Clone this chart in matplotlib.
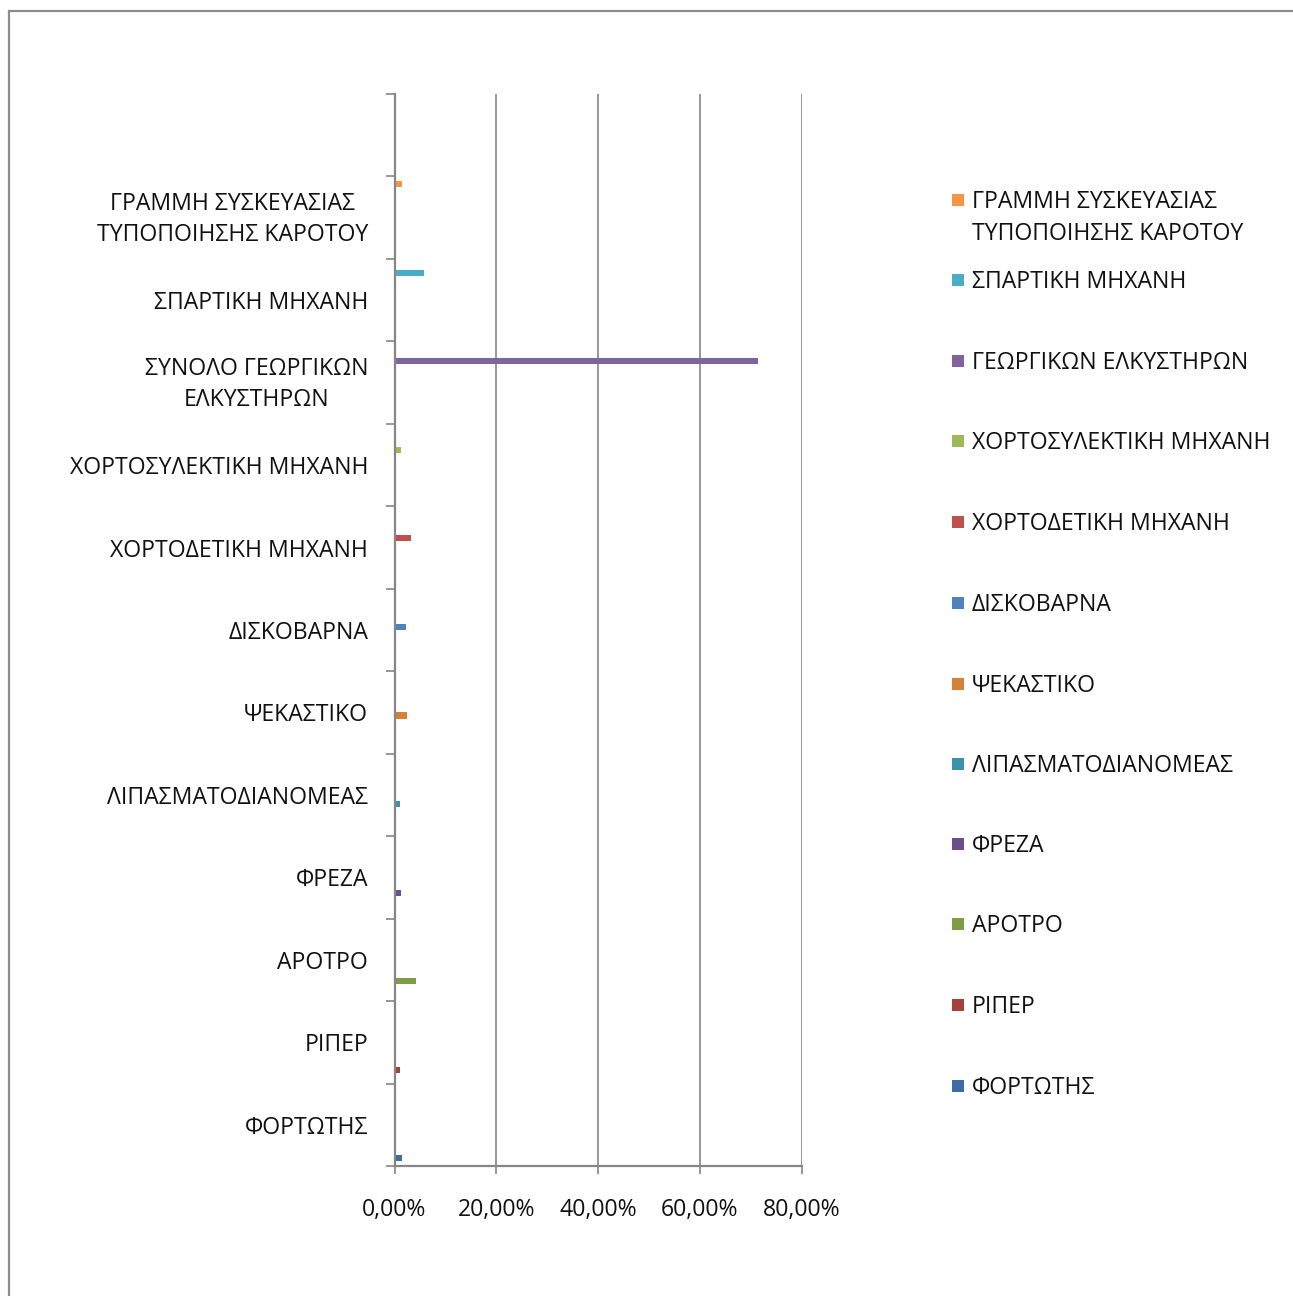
import numpy as np
import matplotlib
matplotlib.use('Agg')
import matplotlib.pyplot as plt
from matplotlib.patches import Rectangle
from matplotlib.ticker import FixedLocator, FuncFormatter
from matplotlib.transforms import ScaledTranslation

plt.rcParams['font.family'] = ['Open Sans', 'DejaVu Sans']

# category labels on the y axis, bottom to top (top band is empty)
categories = ['ΦΟΡΤΩΤΗΣ', 'ΡΙΠΕΡ', 'ΑΡΟΤΡΟ', 'ΦΡΕΖΑ', 'ΛΙΠΑΣΜΑΤΟΔΙΑΝΟΜΕΑΣ',
              'ΨΕΚΑΣΤΙΚΟ', 'ΔΙΣΚΟΒΑΡΝΑ', 'ΧΟΡΤΟΔΕΤΙΚΗ ΜΗΧΑΝΗ',
              'ΧΟΡΤΟΣΥΛΕΚΤΙΚΗ ΜΗΧΑΝΗ', 'ΣΥΝΟΛΟ ΓΕΩΡΓΙΚΩΝ\nΕΛΚΥΣΤΗΡΩΝ',
              'ΣΠΑΡΤΙΚΗ ΜΗΧΑΝΗ', 'ΓΡΑΜΜΗ ΣΥΣΚΕΥΑΣΙΑΣ\nΤΥΠΟΠΟΙΗΣΗΣ ΚΑΡΟΤΟΥ', '']

# series names (legend), same order as categories
series = ['ΦΟΡΤΩΤΗΣ', 'ΡΙΠΕΡ', 'ΑΡΟΤΡΟ', 'ΦΡΕΖΑ', 'ΛΙΠΑΣΜΑΤΟΔΙΑΝΟΜΕΑΣ',
          'ΨΕΚΑΣΤΙΚΟ', 'ΔΙΣΚΟΒΑΡΝΑ', 'ΧΟΡΤΟΔΕΤΙΚΗ ΜΗΧΑΝΗ',
          'ΧΟΡΤΟΣΥΛΕΚΤΙΚΗ ΜΗΧΑΝΗ', 'ΓΕΩΡΓΙΚΩΝ ΕΛΚΥΣΤΗΡΩΝ',
          'ΣΠΑΡΤΙΚΗ ΜΗΧΑΝΗ', 'ΓΡΑΜΜΗ ΣΥΣΚΕΥΑΣΙΑΣ\nΤΥΠΟΠΟΙΗΣΗΣ ΚΑΡΟΤΟΥ']

# percent values, one per series (each in its own category)
values = [1.5, 1.05, 4.3, 1.25, 1.05, 2.5, 2.2, 3.3, 1.25, 71.4, 5.8, 1.5]

colors = ['#3D6CA6', '#A5403D', '#7F9D45', '#6A4F8A', '#3B93AB', '#D6803A',
          '#4F81BD', '#C0504D', '#9BBB59', '#8064A2', '#4BACC6', '#F79646']

W, H = 1293, 1296
FS = 16.6
fig = plt.figure(figsize=(W / 100, H / 100), dpi=100)

# outer chart border (runs off right and bottom)
fig.patches.append(Rectangle((9 / W, -0.1), 1.2, 1 - 11 / H + 0.1,
                             transform=fig.transFigure, fill=False,
                             edgecolor='#8c8c8c', linewidth=1.6))

ax = fig.add_axes([394.5 / W, 1 - 1166 / H, (801.7 - 394.5) / W, (1166 - 94) / H])

n = len(series)
gap = 1.5
bar_h = 1 / (n + gap)
for i, (name, v, c) in enumerate(zip(series, values, colors)):
    off = -0.5 + (gap / 2 + i + 0.5) * bar_h
    ax.barh(i + off, v, height=bar_h, color=c, edgecolor='none')

ax.set_xlim(0, 80)
ax.set_ylim(-0.5, len(categories) - 0.5)

ax.xaxis.set_major_locator(FixedLocator([0, 20, 40, 60, 80]))
ax.xaxis.set_major_formatter(FuncFormatter(lambda v, p: f'{v:.2f}%'.replace('.', ',')))
ax.grid(axis='x', color='#868686', linewidth=1.2)
ax.set_axisbelow(True)

ax.yaxis.set_major_locator(FixedLocator(np.arange(-0.5, len(categories), 1)))
ax.yaxis.set_major_formatter(FuncFormatter(lambda v, p: ''))
ax.yaxis.set_minor_locator(FixedLocator(np.arange(len(categories))))
ax.set_yticklabels(categories, minor=True, multialignment='center', linespacing=1.42)

ax.tick_params(axis='y', which='major', length=6.5, width=1.2, color='#868686')
ax.tick_params(axis='y', which='minor', length=0, pad=19, labelsize=FS, labelcolor='#111111')
ax.tick_params(axis='x', length=6, width=1.2, color='#868686', pad=17,
               labelsize=FS, labelcolor='#111111')

# nudge the two-line labels up a little
for lab in ax.get_yticklabels(minor=True):
    if '\n' in lab.get_text():
        lab.set_transform(lab.get_transform() + ScaledTranslation(0, 0.05, fig.dpi_scale_trans))

for s in ['top', 'right']:
    ax.spines[s].set_visible(False)
for s in ['left', 'bottom']:
    ax.spines[s].set_color('#868686')
    ax.spines[s].set_linewidth(1.6)

# legend, top entry first; each text line placed on its own
ly = [200, 280, 361, 441, 522, 603, 684, 764, 844, 924, 1005, 1086]
for k, i in enumerate(range(n - 1, -1, -1)):
    y = ly[k]
    fig.patches.append(Rectangle((952 / W, 1 - (y + 6) / H), 12 / W, 12 / H,
                                 transform=fig.transFigure, facecolor=colors[i],
                                 edgecolor='none'))
    for j, line in enumerate(series[i].split('\n')):
        fig.text(972 / W, 1 - (y + 2 + 32 * j) / H, line, ha='left', va='center',
                 fontsize=FS, color='#111111')

fig.savefig('out.png', dpi=100, facecolor='white')
